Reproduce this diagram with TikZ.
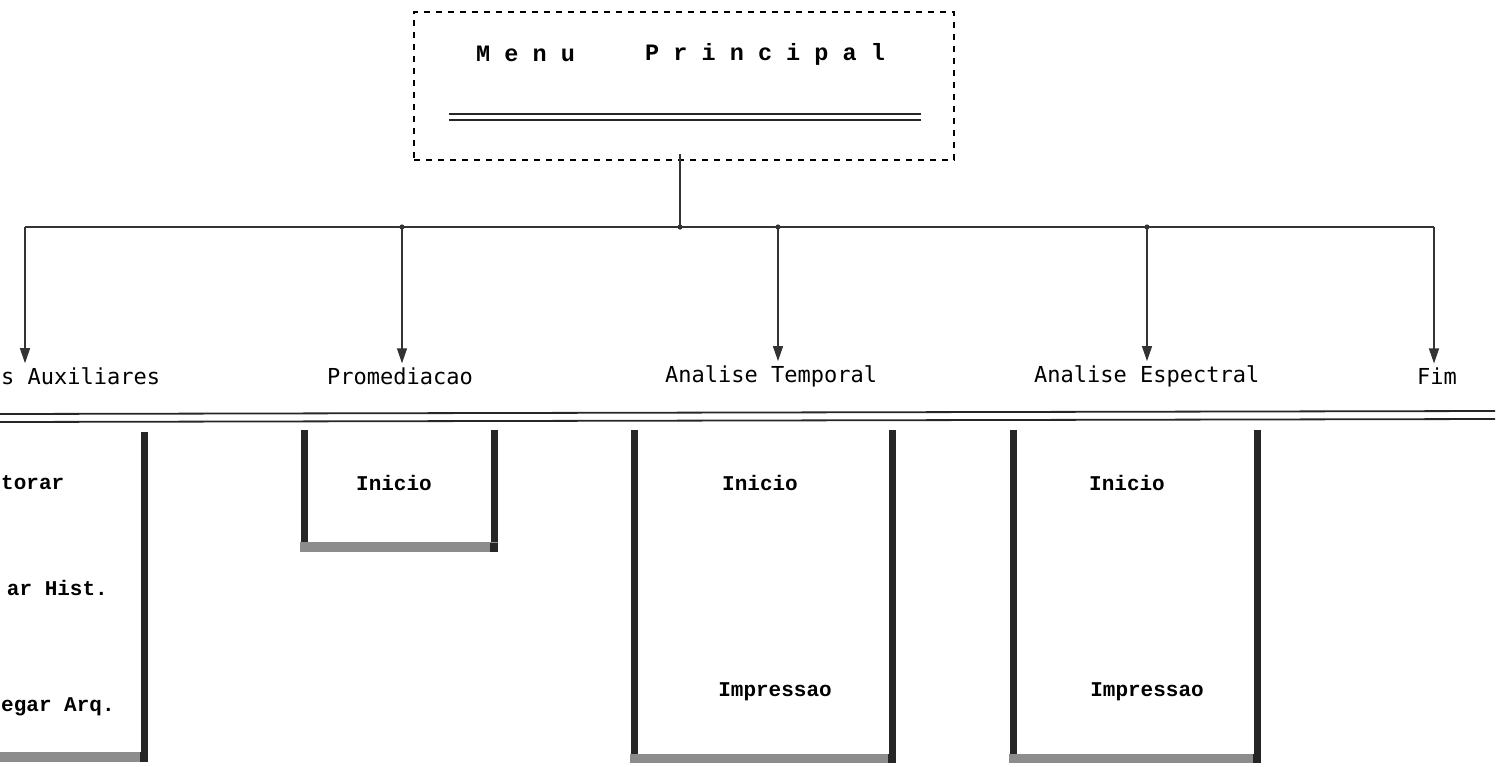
\documentclass[tikz,border=0pt]{standalone}
\usepackage{fontspec}
\newfontfamily\lblfont{DejaVu Sans Mono}
\newfontfamily\boxfont{Liberation Mono}
\usetikzlibrary{arrows.meta}
\begin{document}
\begin{tikzpicture}[x=1pt,y=-1pt,
  lbl/.style={font=\fontsize{22}{22}\selectfont\lblfont, inner sep=0pt, anchor=west},
  itm/.style={font=\fontsize{21}{21}\selectfont\boxfont\bfseries, inner sep=0pt},
  ttl/.style={font=\fontsize{23.5}{23.5}\selectfont\boxfont\bfseries, inner sep=0pt, anchor=west},
  side/.style={line width=7pt, black!85},
  base/.style={fill=black!45},
  wire/.style={line width=1.3pt, black!80},
  conn/.style={wire, -{Triangle[length=15pt,width=10pt]}, shorten >=4pt},
  dbl/.style={line width=1.8pt, black!85},
  dot/.style={fill=black!80}]
\useasboundingbox (0,0) rectangle (1503,766);
\begin{scope}
\clip (0,0) rectangle (1503,766);

% main menu box
\node[draw, dash pattern=on 6pt off 6pt, line width=1.5pt, minimum width=540pt, minimum height=148pt, inner sep=0pt] (menu) at (684,86) {};
\node[ttl] (mt1) at (476,54) {M e n u};
\node[ttl] (mt2) at (645,54) {P r i n c i p a l};
\draw[dbl] (449,114) -- (921,114);
\draw[dbl] (449,120) -- (921,120);

% bus
\coordinate (j0) at (680,227);
\coordinate (jA) at (25,227);
\coordinate (jB) at (402,227);
\coordinate (jC) at (778,227);
\coordinate (jD) at (1147,227);
\coordinate (jE) at (1434,227);
\draw[wire] ([yshift=7pt]menu.south -| j0) -- (j0);
\draw[wire] (jA) -- (jE);
\foreach \p in {j0,jB,jC,jD} \fill[dot] (\p) circle (2.6pt);

% labels
\node[lbl] (aux) at (1,376) {s Auxiliares};
\node[lbl] (prom) at (327,376) {Promediacao};
\node[lbl] (temp) at (665,376) {Analise Temporal};
\node[lbl] (espc) at (1034,376) {Analise Espectral};
\node[lbl] (fim) at (1417,376) {Fim};

\draw[conn] (jA) -- (aux.north -| jA);
\draw[conn] (jB) -- (prom.north -| jB);
\draw[conn] (jC) -- (temp.north -| jC);
\draw[conn] (jD) -- (espc.north -| jD);
\draw[conn] (jE) -- (fim.north -| jE);

% separator double line
\draw[dbl] (0,414) -- (1495,411);
\draw[dbl] (0,422) -- (1495,419);

% box 1 (cut at left edge)
\draw[side] (144,432) -- (144,760);
\fill[base] (-10,752) rectangle (148,762);
\fill[black!85] (140,752) rectangle (148,762);
\node[itm, anchor=west] (b1a) at (1,483) {torar};
\node[itm, anchor=east] (b1b) at (108,588) {ar Hist.};
\node[itm, anchor=west] (b1c) at (1,707) {egar Arq.};

% box 2
\draw[side] (304,430) -- (304,547);
\draw[side] (494,430) -- (494,552);
\fill[base] (300,542) rectangle (498,552);
\fill[black!85] (490,543) rectangle (498,552);
\node[itm] (b2a) at (394,483) {Inicio};

% box 3
\draw[side] (634,430) -- (634,758);
\draw[side] (892,430) -- (892,762);
\fill[base] (630,754) rectangle (896,763);
\fill[black!85] (888,754) rectangle (896,763);
\node[itm] (b3a) at (760,483) {Inicio};
\node[itm] (b3b) at (775,692) {Impressao};

% box 4
\draw[side] (1013,430) -- (1013,758);
\draw[side] (1257,430) -- (1257,762);
\fill[base] (1009,754) rectangle (1261,763);
\fill[black!85] (1253,754) rectangle (1261,763);
\node[itm] (b4a) at (1127,483) {Inicio};
\node[itm] (b4b) at (1147,692) {Impressao};
\end{scope}
\end{tikzpicture}
\end{document}
